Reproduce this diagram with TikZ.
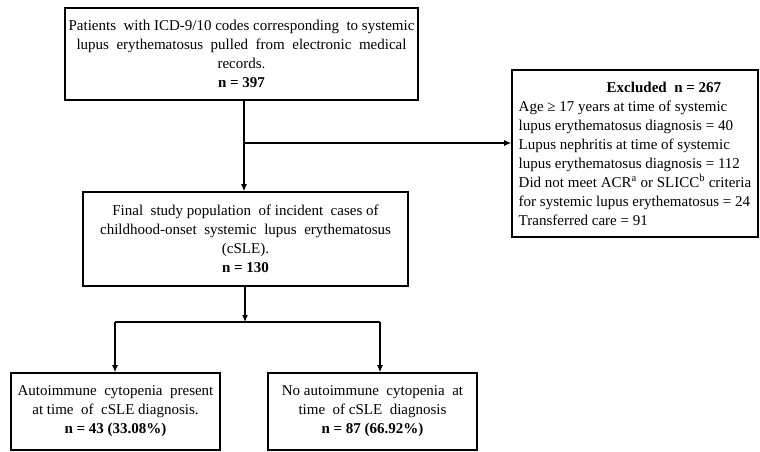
\documentclass[tikz,border=0pt]{standalone}
\usepackage{fontspec}
\setmainfont{Liberation Serif}
\usetikzlibrary{arrows.meta,positioning}

\begin{document}
\begin{tikzpicture}[x=1pt,y=-1pt,
    box/.style={draw,line width=1.6pt,align=center,inner sep=0pt,
      font=\fontsize{15}{19}\selectfont},
    flow/.style={line width=1.1pt,-{Latex[length=7pt,width=6pt]}}]
    \useasboundingbox (0,0) rectangle (760,451);
    \node [box,minimum width=353,minimum height=92] (records) at (241.5,54)
      {Patients\ \ with ICD-9/10 codes corresponding\ \ to systemic\\
       lupus\ \ erythematosus\ \ pulled\ \ from\ \ electronic\ \ medical\\
       records.\\ \textbf{n = 397}};
    \node [box,minimum width=325,minimum height=94] (cohort) at (245.5,239)
      {Final\ \ study population\ \ of incident\ \ cases of\\
       childhood-onset\ \ systemic\ \ lupus\ \ erythematosus\\
       (cSLE).\\ \textbf{n = 130}};
    \node [box,align=left,minimum width=246,minimum height=167] (excluded) at (635,153.5)
      {\hspace*{88pt}\textbf{Excluded\ \ n = 267}\\
       Age ≥ 17 years at time of systemic\\
       lupus erythematosus diagnosis = 40\\
       Lupus nephritis at time of systemic\\
       lupus erythematosus diagnosis = 112\\
       Did not meet ACR\textsuperscript{a} or SLICC\textsuperscript{b} criteria\\
       for systemic lupus erythematosus = 24\\
       Transferred care = 91};
    \node [box,minimum width=209,minimum height=77] (present) at (115.5,411.5)
      {Autoimmune\ \ cytopenia\ \ present\\
       at time\ \ of\ \ cSLE diagnosis.\\ \textbf{n = 43 (33.08\%)}};
    \node [box,minimum width=209,minimum height=77] (absent) at (372.5,411.5)
      {No autoimmune\ \ cytopenia\ \ at\\
       time\ \ of cSLE\ \ diagnosis\\ \textbf{n = 87 (66.92\%)}};
    \coordinate (split) at (244,143);
    \coordinate (fork) at (245,322);
    \coordinate (forkL) at (115,322);
    \coordinate (forkR) at (380,322);
    \draw [flow] (records.south -| split) -- (cohort.north -| split);
    \draw [flow] (split) -- (split -| excluded.west);
    \draw [flow] (cohort.south -| fork) -- (fork);
    \draw [line width=1.1pt] (forkL) -- (forkR);
    \draw [flow] (forkL) -- (forkL |- present.north);
    \draw [flow] (forkR) -- (forkR |- absent.north);
\end{tikzpicture}
\end{document}
